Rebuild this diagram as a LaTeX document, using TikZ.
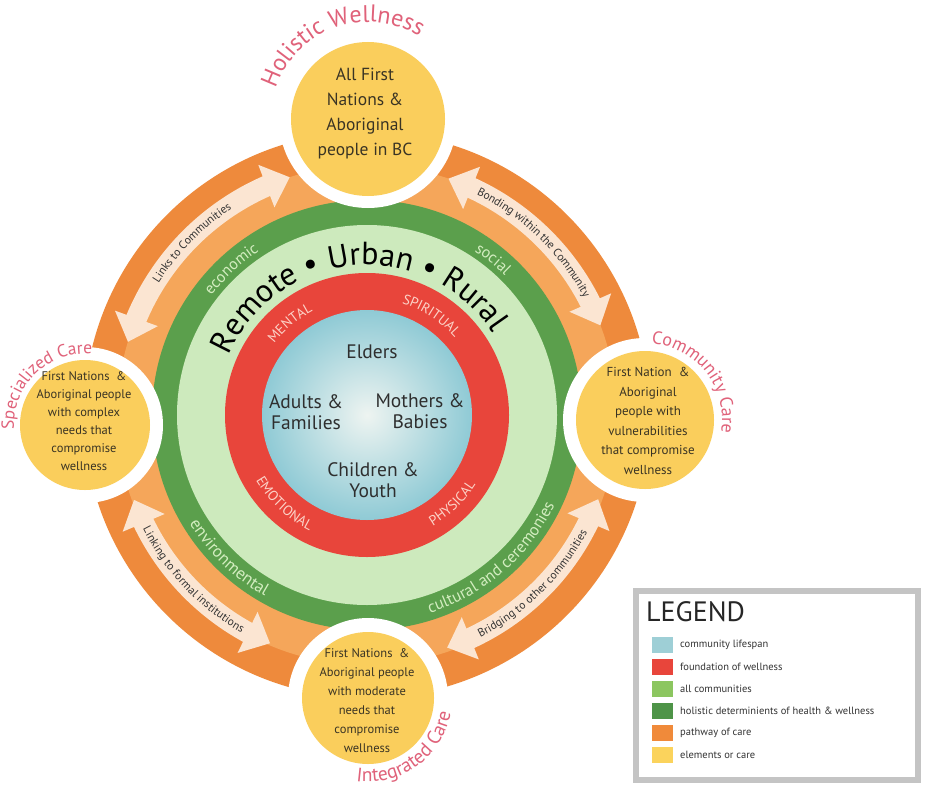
\documentclass[tikz,border=0pt]{standalone}
\usepackage{fontspec}
\setmainfont{PT Sans}
\usetikzlibrary{decorations.text,arrows.meta,bending,calc}
\definecolor{ordark}{HTML}{EE8A3C}
\definecolor{orlight}{HTML}{F5A65A}
\definecolor{arrowc}{HTML}{FBE5D2}
\definecolor{gdark}{HTML}{5B9F4C}
\definecolor{glight}{HTML}{CDEABD}
\definecolor{redc}{HTML}{E8453B}
\definecolor{bluein}{HTML}{EEF4F1}
\definecolor{blueout}{HTML}{8FCAD5}
\definecolor{yel}{HTML}{FACE5C}
\definecolor{pinkc}{HTML}{E0627A}
\definecolor{gtxt}{HTML}{D3EDC0}
\definecolor{rtxt}{HTML}{FCD3C8}
\definecolor{dtxt}{HTML}{2E2E2E}
\definecolor{ytxt}{HTML}{3A3424}
\definecolor{atxt}{HTML}{333333}
\definecolor{leggray}{HTML}{C4C4C4}
\definecolor{legblue}{HTML}{9ECFD6}
\definecolor{leggreen}{HTML}{8CC660}
\definecolor{legdgreen}{HTML}{4E9448}
\definecolor{legorange}{HTML}{F08A3A}
\definecolor{legyellow}{HTML}{FBD35C}

\newcommand{\ArcText}[7]{%
  \path[decorate,decoration={text along path,text align=center,raise=#5,text={|#6|#7}}]
  ($(#1)+(#3:#2)$) arc[start angle=#3,end angle=#4,radius=#2];}

\tikzset{
  satrim/.style={circle,fill=white,inner sep=0pt},
  sat/.style={circle,fill=yel,inner sep=0pt},
  sattext/.style={align=center,text=ytxt,inner sep=0pt},
  lifetext/.style={align=center,text=dtxt,inner sep=0pt,font={\fontsize{19.5}{21}\selectfont}},
  arrowband/.style={draw=arrowc,line width=21pt,{Triangle[width=44pt,length=25pt]}-{Triangle[width=44pt,length=25pt]}},
  swatch/.style={minimum width=21pt,minimum height=16pt,inner sep=0pt},
  legtext/.style={anchor=west,inner sep=0pt,text=atxt,font={\fontsize{10.5}{12}\selectfont}}
}

\begin{document}
\begin{tikzpicture}[x=1pt,y=1pt]
\useasboundingbox (0,0) rectangle (925,-789);
\fill[white] (0,0) rectangle (925,-789);
\coordinate (C) at (367,-415);

% pathway of care ring
\fill[ordark] (C) circle[radius=283];
\fill[orlight] (C) circle[radius=250];
% holistic determinants ring
\fill[gdark] (C) circle[radius=215];
\fill[glight] (C) circle[radius=190];
% foundation of wellness
\fill[redc] (C) circle[radius=142];
% community lifespan
\shade[inner color=bluein,outer color=blueout] (C) circle[radius=105];

% double arrows
\draw[arrowband] ($(C)+(163:250)$) arc[start angle=163,end angle=108,radius=250];
\draw[arrowband] ($(C)+(71:250)$) arc[start angle=71,end angle=21,radius=250];
\draw[arrowband] ($(C)+(200:248)$) arc[start angle=200,end angle=247,radius=248];
\draw[arrowband] ($(C)+(289:246)$) arc[start angle=289,end angle=340,radius=246];

\ArcText{C}{250}{163}{108}{-3.5pt}{\fontsize{11.5}{12}\selectfont\color{atxt}}{Links to Communities}
\ArcText{C}{250}{71}{21}{-3.5pt}{\fontsize{11.5}{12}\selectfont\color{atxt}}{Bonding within the Community}
\ArcText{C}{248}{200}{247}{-3.5pt}{\fontsize{11.5}{12}\selectfont\color{atxt}}{Linking to formal institutions}
\ArcText{C}{246}{289}{340}{-3.5pt}{\fontsize{11.5}{12}\selectfont\color{atxt}}{Bridging to other communities}

% green ring labels
\ArcText{C}{196}{163}{103}{0pt}{\fontsize{16}{17}\selectfont\color{gtxt}}{economic}
\ArcText{C}{196}{81}{21}{0pt}{\fontsize{16}{17}\selectfont\color{gtxt}}{social}
\ArcText{C}{208}{196}{256}{0pt}{\fontsize{17}{18}\selectfont\color{gtxt}}{environmental}
\ArcText{C}{208}{261}{361}{0pt}{\fontsize{16.5}{17}\selectfont\color{gtxt}}{cultural and ceremonies}

% light green ring label
\ArcText{C}{150}{178}{12}{0pt}{\fontsize{32}{34}\selectfont\color{black}}{Remote • Urban • Rural}

% red ring labels
\ArcText{C}{117}{165}{95}{0pt}{\fontsize{14}{15}\selectfont\color{rtxt}}{MENTAL}
\ArcText{C}{117}{92}{22}{0pt}{\fontsize{14}{15}\selectfont\color{rtxt}}{SPIRITUAL}
\ArcText{C}{129}{192}{262}{0pt}{\fontsize{14}{15}\selectfont\color{rtxt}}{EMOTIONAL}
\ArcText{C}{129}{279}{349}{0pt}{\fontsize{14}{15}\selectfont\color{rtxt}}{PHYSICAL}

% lifespan texts
\node[lifetext] (elders) at (372,-352) {Elders};
\node[lifetext] (adults) at (306,-412) {Adults \&\\Families};
\node[lifetext] (mothers) at (420,-411) {Mothers \&\\Babies};
\node[lifetext] (children) at (373,-480) {Children \&\\Youth};

% satellite circles
\node[satrim,minimum size=178pt] (Tw) at (368,-119) {};
\node[sat,minimum size=154pt] (T) at (368,-119) {};
\node[satrim,minimum size=156pt] (Lw) at (85,-425) {};
\node[sat,minimum size=130pt] (L) at (85,-425) {};
\node[satrim,minimum size=164pt] (Rw) at (645,-420) {};
\node[sat,minimum size=138pt] (R) at (645,-420) {};
\node[satrim,minimum size=160pt] (Bw) at (368,-698) {};
\node[sat,minimum size=132pt] (B) at (368,-698) {};

\node[sattext,font={\fontsize{17.5}{25}\selectfont}] (Tt) at (365,-114) {All First\\Nations \&\\Aboriginal\\people in BC};
\node[sattext,font={\fontsize{12.5}{18}\selectfont}] (Lt) at (84,-421) {First Nations\ \ \&\\Aboriginal people\\with complex\\needs that\\compromise\\wellness};
\node[sattext,font={\fontsize{13}{19.5}\selectfont}] (Rt) at (648,-421) {First Nation\ \ \&\\Aboriginal\\people with\\vulnerabilities\\that compromise\\wellness};
\node[sattext,font={\fontsize{12.5}{19}\selectfont}] (Bt) at (367,-701) {First Nations\ \ \&\\Aboriginal people\\with moderate\\needs that\\compromise\\wellness};

% pink titles
\ArcText{T}{97}{180}{40}{0pt}{\fontsize{24}{26}\selectfont\color{pinkc}}{Holistic Wellness}
\ArcText{L}{71}{204}{64}{0pt}{\fontsize{17.5}{18}\selectfont\color{pinkc}}{Specialized Care}
\ArcText{R}{77}{108}{-32}{0pt}{\fontsize{18}{19}\selectfont\color{pinkc}}{Community Care}
\ArcText{B}{84}{236}{376}{0pt}{\fontsize{19.5}{21}\selectfont\color{pinkc}}{Integrated Care}

% legend
\node[draw=leggray,line width=6pt,fill=white,minimum width=282pt,minimum height=189pt,anchor=north west,inner sep=0pt] (legend) at (633,-588) {};
\node[anchor=west,inner sep=0pt,text=black!85,font={\fontsize{28}{30}\selectfont}] (legtitle) at (646,-612) {LEGEND};
\foreach \i/\c/\t in {0/legblue/community lifespan,1/redc/foundation of wellness,2/leggreen/all communities,3/legdgreen/holistic determinients of health \& wellness,4/legorange/pathway of care,5/legyellow/elements or care}{
  \node[swatch,fill=\c] (sw\i) at (662.5,-645-22*\i) {};
  \node[legtext] (lt\i) at (680,-645-22*\i) {\t};
}
\end{tikzpicture}
\end{document}
